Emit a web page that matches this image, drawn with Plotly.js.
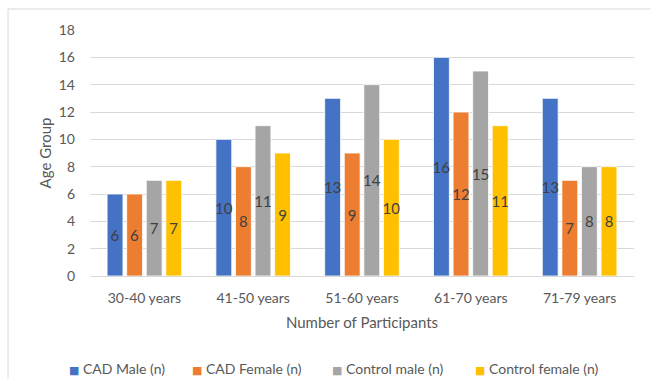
<!DOCTYPE html>
<html>
<head>
<meta charset="utf-8">
<script src="https://cdn.plot.ly/plotly-3.0.1.min.js"></script>
<style>html,body{margin:0;padding:0;background:#fff;}#chart{width:650px;height:379px;}</style>
</head>
<body>
<div id="chart"></div>
<script>
const categories = ["30-40 years", "41-50 years", "51-60 years", "61-70 years", "71-79 years"];
const seriesNames = ["CAD Male (n)", "CAD Female (n)", "Control male (n)", "Control female (n)"];
const cadMale = [6, 10, 13, 16, 13];
const cadFemale = [6, 8, 9, 12, 7];
const controlMale = [7, 11, 14, 15, 8];
const controlFemale = [7, 9, 10, 11, 8];
const yTicks = [0, 2, 4, 6, 8, 10, 12, 14, 16, 18];

const colors = ["#4472C4", "#ED7D31", "#A5A5A5", "#FFC000"];
const allValues = [cadMale, cadFemale, controlMale, controlFemale];
const fontFam = "Lato, Liberation Sans, Arial, sans-serif";

const traces = allValues.map((vals, i) => ({
  type: "bar",
  name: seriesNames[i],
  x: categories,
  y: vals,
  marker: {color: colors[i], line: {color: "#ffffff", width: 0.8}},
  text: vals.map(String),
  textposition: "inside",
  insidetextanchor: "middle",
  textangle: 0,
  constraintext: "none",
  textfont: {family: fontFam, size: 15, color: "#404040"},
  hoverinfo: "skip",
  showlegend: false
}));

// custom Excel-like legend built from the series names and colours
const legendX = [67, 190, 330, 473].map(px => (px - 90) / 544);
const legendAnn = seriesNames.map((nm, i) => ({
  xref: "paper", yref: "paper", x: legendX[i], y: -0.378,
  xanchor: "left", yanchor: "middle", showarrow: false,
  text: '<span style="color:' + colors[i] + ';font-size:11px;font-family:DejaVu Sans">■</span> ' + nm,
  font: {family: fontFam, size: 14, color: "#595959"}
}));

const layout = {
  width: 650, height: 379,
  margin: {l: 90, r: 16, t: 30, b: 103},
  paper_bgcolor: "#ffffff", plot_bgcolor: "#ffffff",
  barmode: "group",
  bargap: 0.28,
  bargroupgap: 0.19,
  showlegend: false,
  font: {family: fontFam, size: 14, color: "#595959"},
  xaxis: {
    showgrid: false, showline: true, linecolor: "#D9D9D9", linewidth: 1,
    ticks: "", ticklabelstandoff: 9, tickfont: {size: 14, color: "#595959"},
    title: {text: "Number of Participants", font: {size: 15, color: "#595959"}, standoff: 12}
  },
  yaxis: {
    range: [0, 18], tickvals: yTicks, showgrid: true, gridcolor: "#D9D9D9", gridwidth: 1,
    zeroline: false, showline: false, ticks: "", ticklabelstandoff: 14,
    tickfont: {size: 14, color: "#595959"},
    title: {text: "Age Group", font: {size: 15, color: "#595959"}, standoff: 3}
  },
  annotations: legendAnn,
  shapes: [{
    type: "rect", xref: "paper", yref: "paper",
    x0: -0.1507, x1: 1.06, y0: -0.47, y1: 1.0854,
    line: {color: "#D9D9D9", width: 1}, fillcolor: "rgba(0,0,0,0)", layer: "below"
  }]
};

Plotly.newPlot("chart", traces, layout, {displayModeBar: false, staticPlot: true});
</script>
</body>
</html>
